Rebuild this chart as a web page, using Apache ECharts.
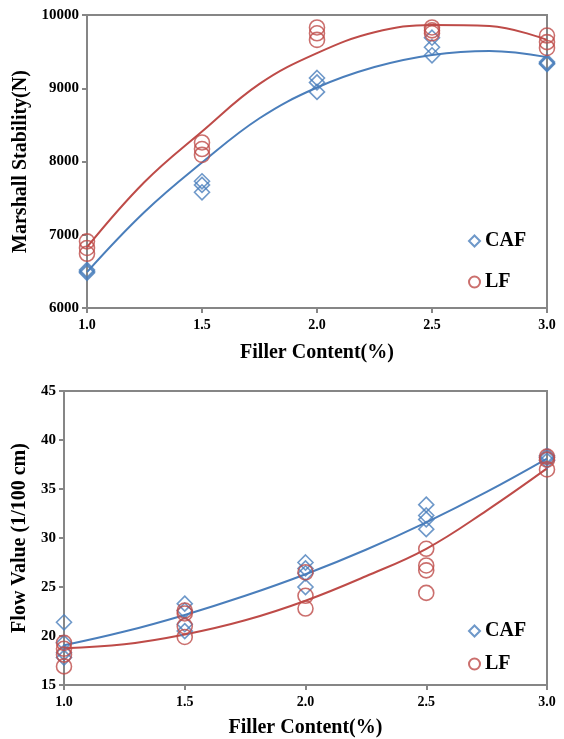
<!DOCTYPE html>
<html>
<head>
<meta charset="utf-8">
<script src="https://cdn.jsdelivr.net/npm/echarts@6/dist/echarts.min.js"></script>
<style>
  html, body { margin: 0; padding: 0; background: #fff; }
  #main { width: 564px; height: 739px; }
</style>
</head>
<body>
<div id="main"></div>
<script>
// filler content (%) where the specimens were tested
var fillerX = [1.0, 1.5, 2.0, 2.5, 3.0];

// Marshall stability (N), specimens per filler content
var stabCAF = [[6520, 6500, 6480], [7730, 7680, 7580], [9140, 9080, 8950], [9690, 9560, 9450], [9360, 9340, 9330]];
var stabLF = [[6910, 6820, 6740], [8260, 8170, 8090], [9830, 9750, 9660], [9830, 9790, 9750], [9720, 9630, 9550]];

// flow value (1/100 cm)
var flowCAF = [[21.4, 19.3, 18.3, 17.8], [23.3, 22.6, 21.2, 20.5], [27.5, 26.9, 26.4, 25.0], [33.4, 32.3, 31.9, 30.9], [38.4, 38.2, 37.9]];
var flowLF = [[19.3, 18.7, 18.1, 16.9], [22.6, 22.3, 21.0, 19.9], [26.5, 24.1, 22.8], [28.9, 27.2, 26.7, 24.4], [38.3, 38.0, 37.0]];

// trend lines
var fitX = [1.0, 1.25, 1.5, 1.75, 2.0, 2.25, 2.5, 2.75, 3.0];
var stabFitCAF = [6490, 7310, 7985, 8590, 9010, 9290, 9455, 9510, 9425];
var stabFitLF = [6830, 7720, 8410, 9060, 9480, 9765, 9865, 9850, 9660];
var flowFitCAF = [19.05, 20.45, 22.15, 24.1, 26.3, 28.8, 31.6, 34.7, 38.1];
var flowFitLF = [18.75, 19.15, 20.15, 21.6, 23.6, 26.1, 28.9, 32.8, 37.1];

var blue = '#4A7EBB';
var red = '#BE4B48';
var axisGray = '#868686';
var serif = 'Liberation Serif';

function pts(groups) {
  var out = [];
  groups.forEach(function (g, i) {
    g.forEach(function (v) { out.push([fillerX[i], v]); });
  });
  return out;
}
function line(ys) {
  return fitX.map(function (x, i) { return [x, ys[i]]; });
}

function xAxis(gi, gap) {
  return {
    type: 'value', gridIndex: gi, min: 1, max: 3, interval: 0.5,
    name: 'Filler Content(%)', nameLocation: 'middle', nameGap: gap,
    nameTextStyle: { fontFamily: serif, fontWeight: 'bold', fontSize: 20, color: '#000' },
    axisLine: { lineStyle: { color: axisGray, width: 2 } },
    axisTick: { show: true, length: 5, lineStyle: { color: axisGray, width: 2 } },
    axisLabel: { fontFamily: serif, fontWeight: 'bold', fontSize: 14, color: '#000', margin: 10,
      formatter: function (v) { return v.toFixed(1); } },
    splitLine: { show: false }
  };
}
function yAxis(gi, name, min, max, step, gap) {
  return {
    type: 'value', gridIndex: gi, min: min, max: max, interval: step,
    name: name, nameLocation: 'middle', nameGap: gap,
    nameTextStyle: { fontFamily: serif, fontWeight: 'bold', fontSize: 20, color: '#000' },
    axisLine: { show: true, lineStyle: { color: axisGray, width: 2 } },
    axisTick: { show: true, length: 5, lineStyle: { color: axisGray, width: 2 } },
    axisLabel: { fontFamily: serif, fontWeight: 'bold', fontSize: 15, color: '#000', margin: 8,
      formatter: function (v) { return String(v); } },
    splitLine: { show: false }
  };
}
function scatter(name, gi, data, symbol, color) {
  return {
    name: name, type: 'scatter', xAxisIndex: gi, yAxisIndex: gi,
    data: data, symbol: symbol, symbolSize: symbol === 'diamond' ? [15, 15] : 15,
    itemStyle: { color: 'rgba(255,255,255,0)', borderColor: color, borderWidth: 1.6 },
    z: 3
  };
}
function fit(gi, data, color) {
  return {
    type: 'line', xAxisIndex: gi, yAxisIndex: gi, data: data,
    smooth: 0.4, showSymbol: false, silent: true,
    lineStyle: { color: color, width: 2 }, z: 2
  };
}
function legend(top, gap) {
  return {
    data: ['CAF', 'LF'], orient: 'vertical', left: 463, top: top,
    itemWidth: 11, itemHeight: 11, itemGap: gap,
    textStyle: { fontFamily: serif, fontWeight: 'bold', fontSize: 20, color: '#000' },
    selectedMode: false
  };
}

var chart = echarts.init(document.getElementById('main'));
chart.setOption({
  backgroundColor: '#fff',
  animation: false,
  legend: [legend(226, 21), legend(616, 13)],
  grid: [
    { left: 87, right: 17, top: 15, height: 293, show: true, borderColor: axisGray, borderWidth: 2 },
    { left: 64, right: 17, top: 391, height: 295, show: true, borderColor: axisGray, borderWidth: 2 }
  ],
  xAxis: [xAxis(0, 35), xAxis(1, 33)],
  yAxis: [
    yAxis(0, 'Marshall Stability(N)', 6000, 10000, 1000, 42),
    yAxis(1, 'Flow Value (1/100 cm)', 15, 45, 5, 23)
  ],
  series: [
    fit(0, line(stabFitCAF), blue),
    fit(0, line(stabFitLF), red),
    scatter('CAF', 0, pts(stabCAF), 'diamond', blue),
    scatter('LF', 0, pts(stabLF), 'circle', red),
    fit(1, line(flowFitCAF), blue),
    fit(1, line(flowFitLF), red),
    scatter('CAF', 1, pts(flowCAF), 'diamond', blue),
    scatter('LF', 1, pts(flowLF), 'circle', red)
  ]
});
</script>
</body>
</html>
